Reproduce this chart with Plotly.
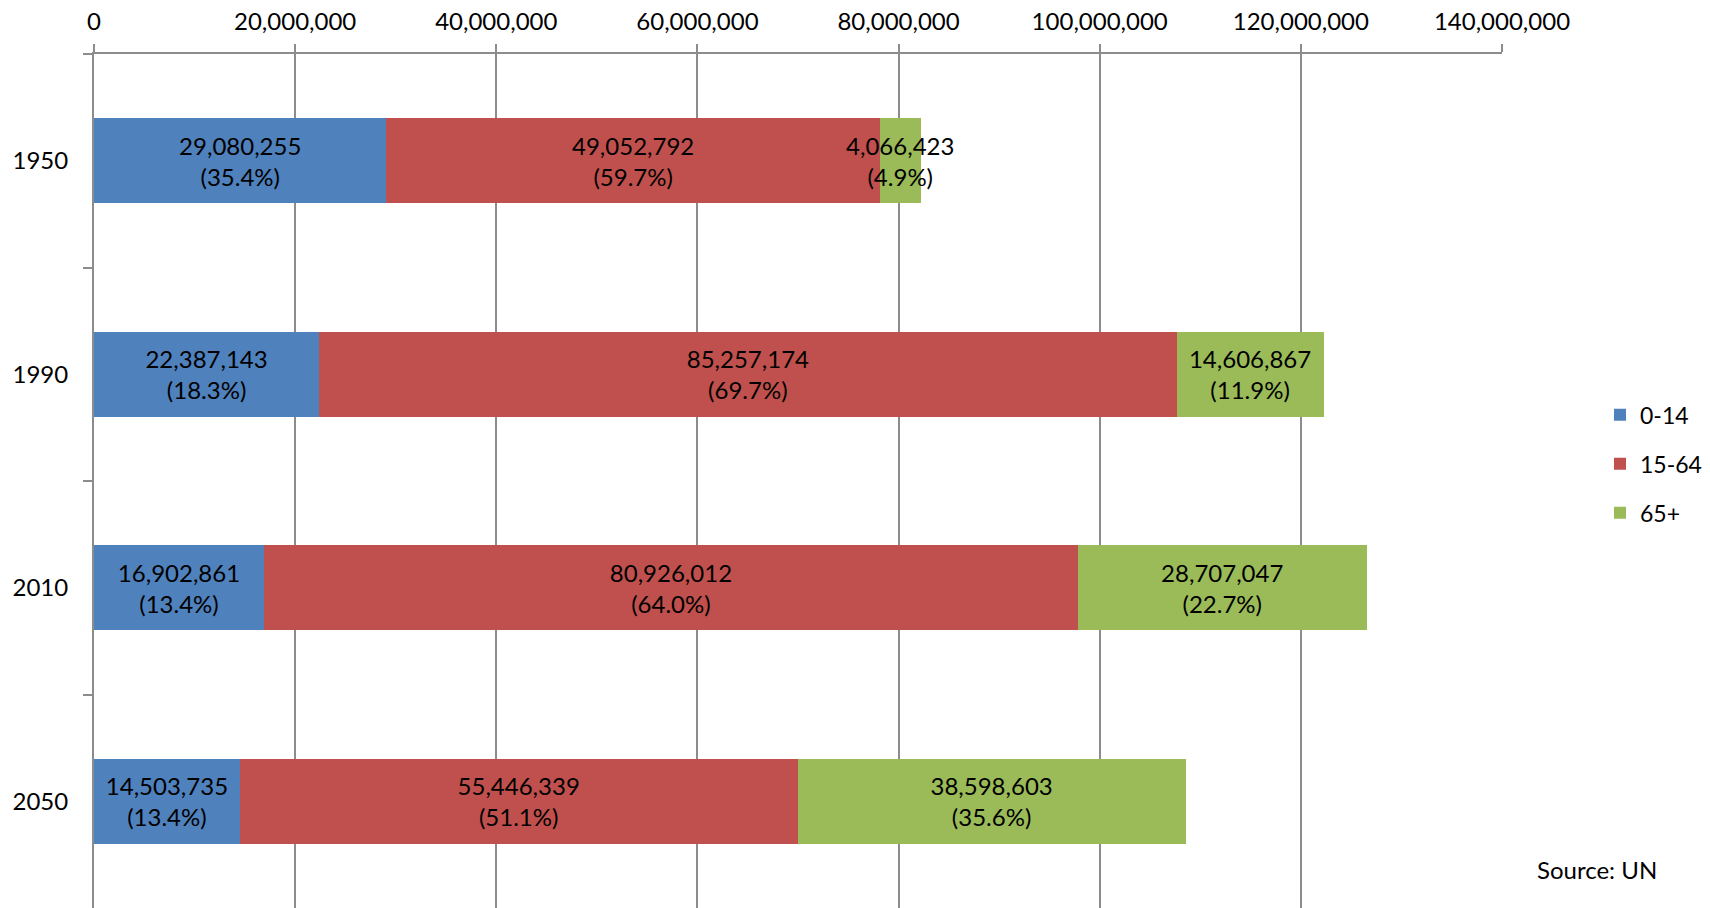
import plotly.graph_objects as go

YEARS = ["1950", "1990", "2010", "2050"]
AGE_0_14 = [29080255, 22387143, 16902861, 14503735]
AGE_15_64 = [49052792, 85257174, 80926012, 55446339]
AGE_65_PLUS = [4066423, 14606867, 28707047, 38598603]
PCT_0_14 = ["35.4%", "18.3%", "13.4%", "13.4%"]
PCT_15_64 = ["59.7%", "69.7%", "64.0%", "51.1%"]
PCT_65_PLUS = ["4.9%", "11.9%", "22.7%", "35.6%"]
X_TICKS = [0, 20000000, 40000000, 60000000, 80000000, 100000000, 120000000, 140000000]

FONT = "Lato, 'Open Sans', sans-serif"
GRID = "#8c8c8c"

series = [
    ("0-14", AGE_0_14, PCT_0_14, "#4F81BD"),
    ("15-64", AGE_15_64, PCT_15_64, "#C0504D"),
    ("65+", AGE_65_PLUS, PCT_65_PLUS, "#9BBB59"),
]

fig = go.Figure()
for name, vals, pcts, color in series:
    fig.add_trace(go.Bar(
        y=YEARS,
        x=vals,
        name=name,
        orientation="h",
        marker=dict(color=color, line=dict(width=0)),
        customdata=pcts,
        texttemplate="%{x:,}<br>(%{customdata})",
        textposition="inside",
        insidetextanchor="middle",
        textangle=0,
        constraintext="none",
        textfont=dict(color="black", size=24, family=FONT),
        legendgroup=name,
        cliponaxis=False,
    ))

# page body has an 8px margin, so the figure is sized to the remaining window
fig.update_layout(
    barmode="stack",
    bargap=0.6,
    width=1702,
    height=900,
    plot_bgcolor="white",
    paper_bgcolor="white",
    font=dict(family=FONT, size=24, color="black"),
    margin=dict(l=86, r=208, t=46, b=0, autoexpand=False),
    showlegend=True,
    legend=dict(
        x=1.0696, xanchor="left",
        y=0.52, yanchor="middle",
        traceorder="grouped",
        tracegroupgap=16,
        font=dict(size=23, family=FONT),
        bgcolor="rgba(0,0,0,0)",
    ),
    annotations=[dict(
        text="Source: UN",
        xref="paper", yref="paper",
        x=1.0675, y=0.0445,
        xanchor="center", yanchor="middle",
        showarrow=False,
        font=dict(size=24, family=FONT),
    )],
)

fig.update_xaxes(
    side="top",
    range=[0, 140000000],
    tickvals=X_TICKS,
    tickformat=",",
    showgrid=True,
    gridcolor=GRID,
    gridwidth=1.5,
    showline=True,
    linecolor=GRID,
    linewidth=2,
    ticks="outside",
    ticklen=8,
    tickcolor=GRID,
    tickwidth=1.5,
    ticklabelstandoff=4,
    zeroline=False,
    automargin=False,
)

fig.update_yaxes(
    autorange="reversed",
    showgrid=False,
    showline=True,
    linecolor=GRID,
    linewidth=2,
    ticks="outside",
    tickson="boundaries",
    ticklen=9,
    tickcolor=GRID,
    tickwidth=1.5,
    ticklabelstandoff=19,
    automargin=False,
)

fig.write_html("out.html")
